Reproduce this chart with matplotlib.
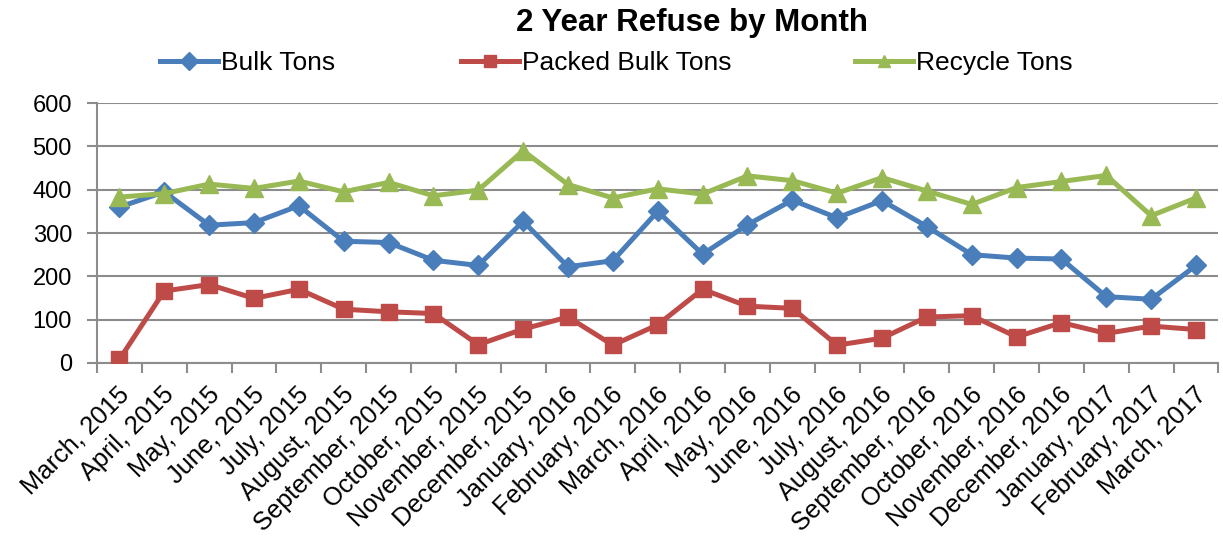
import matplotlib
matplotlib.use("Agg")
import matplotlib.pyplot as plt
from matplotlib.transforms import ScaledTranslation
from matplotlib.lines import Line2D
import numpy as np

months = ["March, 2015", "April, 2015", "May, 2015", "June, 2015", "July, 2015",
          "August, 2015", "September, 2015", "October, 2015", "November, 2015",
          "December, 2015", "January, 2016", "February, 2016", "March, 2016",
          "April, 2016", "May, 2016", "June, 2016", "July, 2016", "August, 2016",
          "September, 2016", "October, 2016", "November, 2016", "December, 2016",
          "January, 2017", "February, 2017", "March, 2017"]

bulk_tons = [360, 395, 318, 324, 363, 281, 278, 237, 225, 327, 222, 236, 350,
             251, 319, 376, 335, 375, 315, 250, 242, 240, 153, 147, 225]
packed_bulk_tons = [8, 166, 181, 149, 170, 124, 118, 114, 42, 78, 106, 41, 88,
                    170, 131, 126, 41, 57, 106, 109, 60, 93, 68, 85, 77]
recycle_tons = [383, 391, 413, 403, 420, 395, 417, 386, 399, 490, 412, 381, 402,
                390, 432, 421, 392, 428, 397, 366, 405, 419, 433, 340, 381]

series_names = ["Bulk Tons", "Packed Bulk Tons", "Recycle Tons"]
y_ticks = [0, 100, 200, 300, 400, 500, 600]

plt.rcParams['font.family'] = ['Liberation Sans', 'DejaVu Sans']

fig = plt.figure(figsize=(12.23, 5.40), dpi=100)
ax = fig.add_axes([0.0793, 0.328, 0.917, 0.481])

colors = ['#4A7EBB', '#BE4B48', '#98B954']
markers = ['D', 's', '^']
msizes = [10.5, 11.5, 13]

x = np.arange(len(months))
lw = 3.6
for vals, c, m, ms, name in zip([bulk_tons, packed_bulk_tons, recycle_tons],
                                colors, markers, msizes, series_names):
    ax.plot(x, vals, color=c, lw=lw, marker=m, markersize=ms, label=name,
            zorder=3)

ax.set_xlim(-0.5, len(months) - 0.5)
ax.set_ylim(0, 600)
ax.set_yticks(y_ticks)
ax.set_yticklabels([str(v) for v in y_ticks], fontsize=17)
ax.yaxis.grid(True, color='#8C8C8C', lw=1.5)
ax.set_axisbelow(True)

ax.set_xticks(np.arange(len(months) + 1) - 0.5)
ax.set_xticklabels([])
ax.set_xticks(x, minor=True)
ax.set_xticklabels(months, minor=True, rotation=45, ha='right', va='top',
                   rotation_mode='anchor', fontsize=18.3)
ax.tick_params(axis='x', which='minor', length=0, pad=14)
ax.tick_params(axis='x', which='major', length=7, width=1.5, color='#8C8C8C')
ax.tick_params(axis='y', length=7, width=1.5, color='#8C8C8C', pad=11)
off = ScaledTranslation(-2 / 100, 0, fig.dpi_scale_trans)
for lbl in ax.get_xticklabels(minor=True):
    lbl.set_transform(lbl.get_transform() + off)

for s in ['top', 'right']:
    ax.spines[s].set_visible(False)
for s in ['left', 'bottom']:
    ax.spines[s].set_color('#8C8C8C')
    ax.spines[s].set_linewidth(1.5)

fig.text(0.566, 0.958, "2 Year Refuse by Month", ha='center', va='center',
         fontsize=22.5, fontweight='bold')

leg_x = [160, 461, 855]
for name, c, m, lx in zip(series_names, colors, markers, leg_x):
    h = Line2D([], [], color=c, lw=lw, marker=m, markersize=9)
    fig.legend([h], [name], loc='center left',
               bbox_to_anchor=(lx / 1223, 0.883), frameon=False, fontsize=19,
               handlelength=2.2, handletextpad=0.1, borderpad=0,
               borderaxespad=0)

fig.savefig("out.png", dpi=100)
